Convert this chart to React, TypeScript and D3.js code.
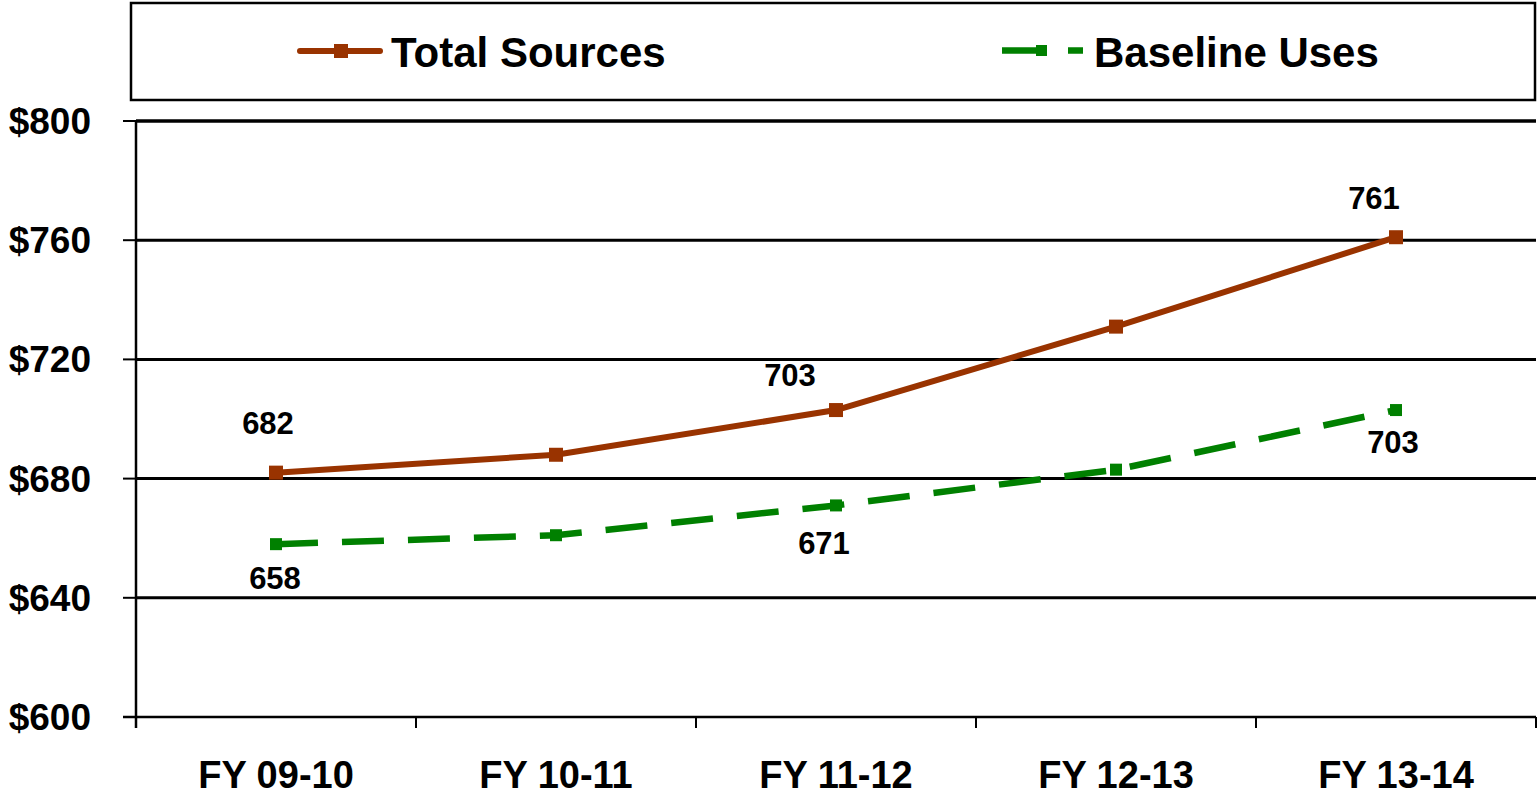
import React from "react";
import * as d3 from "d3";

const categories = ["FY 09-10", "FY 10-11", "FY 11-12", "FY 12-13", "FY 13-14"];
const totalSources = [682, 688, 703, 731, 761];
const baselineUses = [658, 661, 671, 683, 703];
const yTicks = [600, 640, 680, 720, 760, 800];
const seriesNames = ["Total Sources", "Baseline Uses"];

// labels: [series index, point index, dx, dy]
const labelPlacements: [number, number, number, number][] = [
  [0, 0, -8, -50],
  [0, 2, -46, -35],
  [0, 4, -22, -39],
  [1, 0, -1, 34],
  [1, 2, -12, 38],
  [1, 4, -3, 32],
];

const W = 1537;
const H = 795;
const FONT = "'Liberation Sans', Arial, Helvetica, sans-serif";
const BROWN = "#993300";
const GREEN = "#008000";

export default function App() {
  const x = d3.scaleBand<string>().domain(categories).range([136, 1536]).padding(0);
  const y = d3.scaleLinear().domain([600, 800]).range([717, 121]);
  const cx = (c: string) => (x(c) as number) + x.bandwidth() / 2;

  const series = [totalSources, baselineUses];
  const line = d3
    .line<number>()
    .x((_, i) => cx(categories[i]))
    .y((d) => y(d));

  const boundaries = categories.map((c) => x(c) as number).concat([1536]);

  return (
    <svg
      width={W}
      height={H}
      style={{ position: "fixed", left: 0, top: 0, background: "#fff" }}
      fontFamily={FONT}
    >
      <rect x={0} y={0} width={W} height={H} fill="#fff" />
      {/* Legend */}
      <rect x={131} y={3} width={1404} height={97} fill="#fff" stroke="#000" strokeWidth={2.5} />
      <line x1={300} x2={380} y1={51} y2={51} stroke={BROWN} strokeWidth={6} strokeLinecap="round" />
      <rect x={334} y={44} width={14} height={14} fill={BROWN} />
      <text x={391} y={67} fontSize={42} fontWeight="bold" fill="#000">
        {seriesNames[0]}
      </text>
      <line x1={1002} x2={1083} y1={50.5} y2={50.5} stroke={GREEN} strokeWidth={6.5} strokeDasharray="42 24" />
      <rect x={1036} y={45} width={11} height={11} fill={GREEN} />
      <text x={1094} y={67} fontSize={42} fontWeight="bold" fill="#000">
        {seriesNames[1]}
      </text>

      {/* gridlines */}
      {yTicks.map((t) => (
        <g key={t}>
          {t !== 600 && (
            <line x1={136} x2={1536} y1={y(t)} y2={y(t)} stroke="#000" strokeWidth={t === 800 ? 3.5 : 3} />
          )}
          <line x1={123} x2={136} y1={y(t)} y2={y(t)} stroke="#000" strokeWidth={2} />
          <text
            x={91}
            y={y(t) + 13}
            textAnchor="end"
            fontSize={37}
            fontWeight="bold"
            fill="#000"
          >
            {"$" + t}
          </text>
        </g>
      ))}
      {/* axes */}
      <line x1={136} x2={136} y1={121} y2={728} stroke="#000" strokeWidth={2.5} />
      <line x1={123} x2={1536} y1={y(600)} y2={y(600)} stroke="#000" strokeWidth={2.5} />
      {boundaries.map((b, i) => (
        <line key={i} x1={b} x2={b} y1={717} y2={728} stroke="#000" strokeWidth={2} />
      ))}
      {categories.map((c) => (
        <text key={c} x={cx(c)} y={788} textAnchor="middle" fontSize={38} fontWeight="bold" fill="#000">
          {c}
        </text>
      ))}

      {/* series */}
      <path d={line(totalSources) || ""} fill="none" stroke={BROWN} strokeWidth={6} strokeLinejoin="round" />
      {totalSources.map((v, i) => (
        <rect key={i} x={cx(categories[i]) - 7} y={y(v) - 7} width={14} height={14} fill={BROWN} />
      ))}
      <path
        d={line(baselineUses) || ""}
        fill="none"
        stroke={GREEN}
        strokeWidth={6.5}
        strokeDasharray="42 24"
      />
      {baselineUses.map((v, i) => (
        <rect key={i} x={cx(categories[i]) - 6} y={y(v) - 6} width={12} height={12} fill={GREEN} />
      ))}

      {/* labels */}
      {labelPlacements.map(([s, i, dx, dy]) => {
        const v = series[s][i];
        return (
          <text
            key={s + "-" + i}
            x={cx(categories[i]) + dx}
            y={y(v) + dy + 11}
            textAnchor="middle"
            fontSize={31}
            fontWeight="bold"
            fill="#000"
          >
            {v}
          </text>
        );
      })}
    </svg>
  );
}
